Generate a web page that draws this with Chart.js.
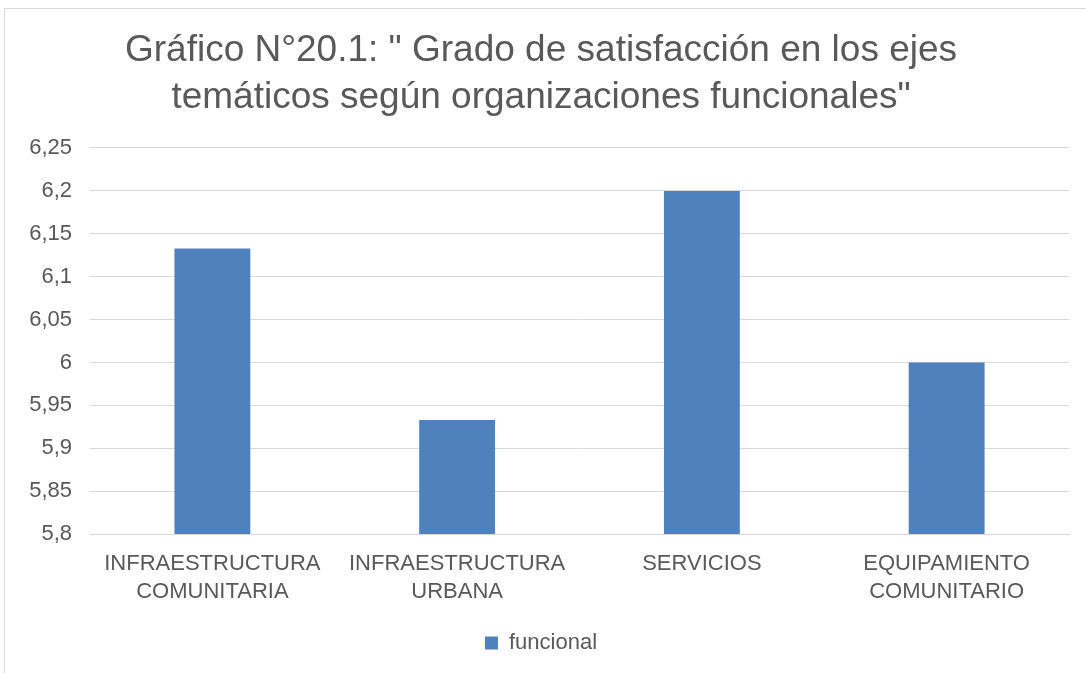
<!DOCTYPE html>
<html>
<head>
<meta charset="utf-8">
<script src="https://cdn.jsdelivr.net/npm/chart.js@4"></script>
<style>
  body { margin: 0; background: #fff; overflow: hidden; }
  #marco {
    position: absolute; left: 4px; top: 8px;
    width: 1100px; height: 680px;
    border: 1px solid #d9d9d9; background: #fff;
  }
  #wrap { position: absolute; left: 0; top: 0; width: 1082px; height: 665px; }
</style>
</head>
<body>
<div id="marco"><div id="wrap"><canvas id="grafico"></canvas></div></div>
<script>
// Datos del gráfico
const categorias = [
    ['INFRAESTRUCTURA', 'COMUNITARIA'],
    ['INFRAESTRUCTURA', 'URBANA'],
    'SERVICIOS',
    ['EQUIPAMIENTO', 'COMUNITARIO']
];
const valoresFuncional = [6.133, 5.933, 6.2, 6.0];
const tituloLineas = ['Gráfico N°20.1: " Grado de satisfacción en los ejes', 'temáticos según organizaciones funcionales"'];
const ejeMin = 5.8;
const ejeMax = 6.25;
const ejePaso = 0.05;

const gris = '#595959';
const fuente = "'Liberation Sans', Arial, sans-serif";

const ctx = document.getElementById('grafico').getContext('2d');
new Chart(ctx, {
    type: 'bar',
    data: {
        labels: categorias,
        datasets: [{
            label: 'funcional',
            data: valoresFuncional,
            backgroundColor: '#4f81bd',
            borderWidth: 0,
            categoryPercentage: 1,
            barPercentage: 0.31
        }]
    },
    options: {
        responsive: true,
        maintainAspectRatio: false,
        animation: false,
        layout: { padding: { left: 8, right: 18, top: 0, bottom: 10 } },
        plugins: {
            title: {
                display: true,
                text: tituloLineas,
                color: gris,
                font: { family: fuente, size: 37, weight: 'normal', lineHeight: 1.27 },
                padding: { top: 18, bottom: 27 }
            },
            legend: {
                position: 'bottom',
                labels: {
                    color: gris,
                    font: { family: fuente, size: 22 },
                    boxWidth: 13,
                    boxHeight: 13,
                    padding: 18
                }
            },
            tooltip: { enabled: false }
        },
        scales: {
            x: {
                grid: { display: false },
                border: { color: '#d9d9d9', width: 1 },
                ticks: {
                    color: gris,
                    font: { family: fuente, size: 22, lineHeight: 1.27 },
                    maxRotation: 0,
                    autoSkip: false,
                    padding: 8
                }
            },
            y: {
                min: ejeMin,
                max: ejeMax,
                grid: { color: '#d9d9d9', drawTicks: false },
                border: { display: false },
                ticks: {
                    stepSize: ejePaso,
                    color: gris,
                    padding: 18,
                    font: { family: fuente, size: 22 },
                    callback: function(value) {
                        return Number(value.toFixed(2)).toString().replace('.', ',');
                    }
                },
                afterFit: function(scale) { scale.width = 77; }
            }
        }
    }
});
</script>
</body>
</html>
